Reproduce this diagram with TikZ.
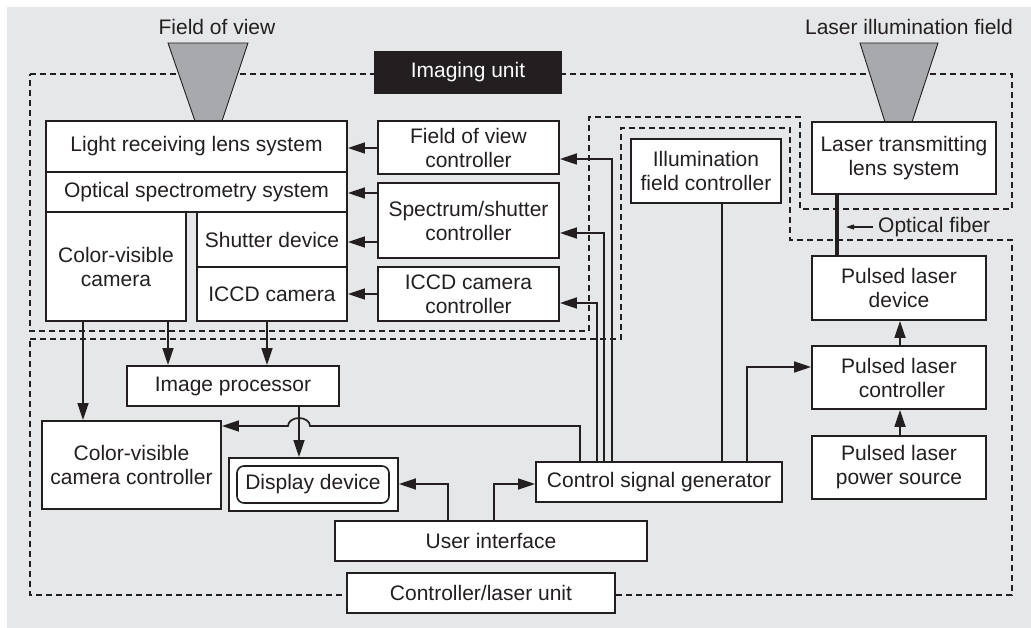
\documentclass[tikz,border=0pt]{standalone}
\usepackage{fontspec}
\setmainfont{Liberation Sans}
\usetikzlibrary{arrows.meta}
\definecolor{bg}{HTML}{E6E7E8}
\definecolor{ink}{HTML}{231F20}
\definecolor{cone}{HTML}{A7A9AC}
\newcommand\mybox[7][]{\node[box,#1,minimum width={#5pt-#3pt},minimum height={#6pt-#4pt}] (#2) at ({(#3+#5)/2},{(#4+#6)/2}) {#7};}
\begin{document}
\begin{tikzpicture}[x=1pt,y=-1pt,
  font=\fontsize{21}{24}\selectfont,
  box/.style={draw=ink, line width=1.9pt, fill=white, inner sep=0pt, align=center, text=ink},
  innerbox/.style={draw=ink, line width=1.6pt, rounded corners=7pt, fill=white, inner sep=0pt, align=center, text=ink},
  wire/.style={draw=ink, line width=1.7pt},
  arr/.style={wire, -{Triangle[length=17pt,width=11pt]}},
  smallarr/.style={draw=ink, line width=1.1pt, -{Triangle[length=8pt,width=5pt]}},
  fiber/.style={draw=ink, line width=3.2pt},
  unit/.style={draw=ink, line width=2pt, dash pattern=on 6pt off 4pt},
  lens/.style={fill=cone, draw=ink, line width=0.9pt},
  lbl/.style={text=ink, inner sep=0pt},
]
\useasboundingbox (0,0) rectangle (1031,628);
\fill[bg] (7,7) rectangle (1031,628);

% unit boundaries
\draw[unit] (30,74) -- (1012,74) -- (1012,209) -- (800,209) -- (800,117) -- (589,117) -- (589,331) -- (30,331) -- cycle;
\draw[unit] (30,339) -- (621,339) -- (621,128) -- (790,128) -- (790,240) -- (1012,240) -- (1012,595) -- (30,595) -- cycle;

% cones
\path[lens] (168,43) -- (248,43) -- (222,121) -- (195,121) -- cycle;
\path[lens] (860,43) -- (938,43) -- (912,122) -- (885,122) -- cycle;
\node[lbl] (fov) at (217,27) {Field of view};
\node[lbl] (lif) at (909,27) {Laser illumination field};

% boxes
\mybox[fill=ink,text=white,draw=ink]{iu}{375}{52}{561}{93}{Imaging unit}
\mybox{lrl}{46}{121}{347}{172}{Light receiving lens system}
\mybox{oss}{46}{172}{347}{212}{Optical spectrometry system}
\mybox{cvcam}{46}{212}{186}{321}{Color-visible\\camera}
\mybox{shd}{197}{212}{347}{267}{Shutter device}
\mybox{iccd}{197}{267}{347}{321}{ICCD camera}
\mybox{fvc}{378}{121}{559}{174}{Field of view\\controller}
\mybox{ssc}{378}{183}{559}{258}{Spectrum/shutter\\controller}
\mybox{icc}{378}{267}{559}{321}{ICCD camera\\controller}
\mybox{ifc}{631}{139}{781}{203}{Illumination\\field controller}
\mybox{ltl}{812}{122}{996}{194}{Laser transmitting\\lens system}
\mybox{pld}{812}{256}{986}{320}{Pulsed laser\\device}
\mybox{plc}{812}{346}{986}{409}{Pulsed laser\\\hspace{6pt}controller}
\mybox{pps}{812}{436}{986}{499}{Pulsed laser\\power source}
\mybox{csg}{536}{462}{782}{502}{Control signal generator}
\mybox{ui}{335}{521}{647}{561}{User interface}
\mybox{ip}{127}{366}{339}{406}{Image processor}
\mybox{cvcc}{42}{421}{221}{509}{Color-visible\\camera controller}
\mybox{dd}{229}{458}{398}{511}{}
\node[innerbox, minimum width=152pt, minimum height=37pt] (ddi) at (313,484.5) {Display device};
\mybox{clu}{347}{573}{615}{613}{Controller/laser unit}

% controller -> imaging unit arrows
\draw[arr] (fvc.west |- 0,148) -- (lrl.east |- 0,148);
\draw[arr] (ssc.west |- 0,193) -- (oss.east |- 0,193);
\draw[arr] (ssc.west |- 0,242) -- (shd.east |- 0,242);
\draw[arr] (icc.west |- 0,294) -- (iccd.east |- 0,294);

% control signal generator wires
\draw[arr] (612,0 |- csg.north) |- (fvc.east |- 0,159);
\draw[arr] (604,0 |- csg.north) |- (ssc.east |- 0,233);
\draw[arr] (597,0 |- csg.north) |- (icc.east |- 0,303);
\draw[wire] (722,0 |- csg.north) -- (722,0 |- ifc.south);
\draw[arr] (747,0 |- csg.north) |- (plc.west |- 0,367);
\draw[arr] (580,0 |- csg.north) |- (310,426) arc[start angle=0, end angle=180, x radius=11pt, y radius=8pt] -- (cvcc.east |- 0,426);

% cameras -> processing
\draw[arr] (83,0 |- cvcam.south) -- (83,0 |- cvcc.north);
\draw[arr] (168,0 |- cvcam.south) -- (168,0 |- ip.north);
\draw[arr] (267,0 |- iccd.south) -- (267,0 |- ip.north);
\draw[arr] (299,0 |- ip.south) -- (299,0 |- dd.north);

% user interface
\draw[arr] (448,0 |- ui.north) |- (dd.east |- 0,484);
\draw[arr] (494,0 |- ui.north) |- (csg.west |- 0,484);

% laser chain
\draw[arr] (pps.north -| 900,0) -- (plc.south -| 900,0);
\draw[arr] (plc.north -| 900,0) -- (pld.south -| 900,0);
\draw[fiber] (ltl.south -| 837,0) -- (pld.north -| 837,0);
\node[lbl, anchor=west] (ofl) at (878,227) {Optical fiber};
\coordinate (ofend) at (846,227);
\draw[smallarr] ([xshift=-5pt]ofl.west) -- (ofend);
\end{tikzpicture}
\end{document}
